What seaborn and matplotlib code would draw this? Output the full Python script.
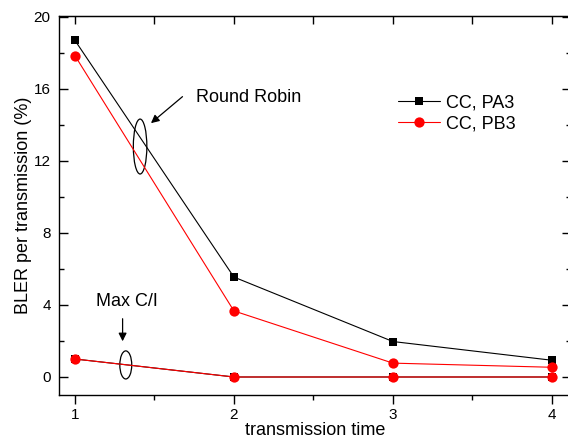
import numpy as np
import pandas as pd
import matplotlib
matplotlib.use("Agg")
import matplotlib.pyplot as plt
from matplotlib.patches import Ellipse
import seaborn as sns

# ---- Data ----
tx_time = [1, 2, 3, 4]
rr_pa3 = [18.7, 5.55, 1.97, 0.93]
rr_pb3 = [17.85, 3.67, 0.77, 0.54]
mc_pa3 = [1.0, 0.0, 0.0, 0.0]
mc_pb3 = [1.0, 0.0, 0.0, 0.0]

sns.set_style("white")
plt.rcParams['font.family'] = ['Liberation Sans', 'DejaVu Sans']
plt.rcParams['text.color'] = 'black'
plt.rcParams['axes.labelcolor'] = 'black'
plt.rcParams['xtick.color'] = 'black'
plt.rcParams['ytick.color'] = 'black'

fig = plt.figure(figsize=(5.68, 4.41), dpi=100)
ax = fig.add_axes([59 / 568, 46 / 441, 512 / 568, 379 / 441])

sty_a = dict(color='black', marker='s', markersize=5.8, linewidth=0.8,
             markeredgewidth=0, markeredgecolor='black')
sty_b = dict(color='red', marker='o', markersize=7.4, linewidth=0.8,
             markeredgewidth=0, markeredgecolor='red')

sns.lineplot(x=tx_time, y=rr_pa3, ax=ax, label='CC, PA3', **sty_a)
sns.lineplot(x=tx_time, y=rr_pb3, ax=ax, label='CC, PB3', **sty_b)
sns.lineplot(x=tx_time, y=mc_pa3, ax=ax, **sty_a)
sns.lineplot(x=tx_time, y=mc_pb3, ax=ax, **sty_b)

ax.set_xlim(0.9, 4.12)
ax.set_ylim(-1, 20.05)
ax.set_xticks([1, 2, 3, 4])
ax.set_xticks([1.5, 2.5, 3.5], minor=True)
ax.set_yticks([0, 4, 8, 12, 16, 20])
ax.set_yticks([2, 6, 10, 14, 18], minor=True)
ax.tick_params(axis='both', which='both', labelsize=11, color='black',
               labelcolor='black', width=1, bottom=True, left=True)
ax.tick_params(axis='x', which='both', direction='out', pad=3)
ax.tick_params(axis='y', which='both', direction='in', pad=6)
ax.tick_params(which='major', length=6.5)
ax.tick_params(which='minor', length=3.5)
for s in ax.spines.values():
    s.set_color('black')
    s.set_linewidth(1)

# mirrored inward ticks on top and right
top = ax.secondary_xaxis('top')
top.set_xticks([1, 2, 3, 4])
top.set_xticks([1.5, 2.5, 3.5], minor=True)
top.tick_params(which='both', direction='in', labeltop=False, width=1, length=6)
right = ax.secondary_yaxis('right')
right.set_yticks([0, 4, 8, 12, 16, 20])
right.set_yticks([2, 6, 10, 14, 18], minor=True)
right.tick_params(which='both', direction='in', labelright=False, width=1)
right.tick_params(which='major', length=6.5)
right.tick_params(which='minor', length=3.5)

ax.set_xlabel('transmission time', fontsize=13, labelpad=0)
ax.set_ylabel('BLER per transmission (%)', fontsize=13, labelpad=1)

# annotations
ax.add_patch(Ellipse((1.41, 12.8), 0.085, 3.05, fill=False, edgecolor='black', linewidth=0.9))
ax.annotate('', xy=(1.465, 14.0), xytext=(1.69, 15.67),
            arrowprops=dict(arrowstyle='-|>', color='black', lw=0.9, mutation_scale=12))
ax.text(1.76, 15.55, 'Round Robin', fontsize=13, va='center', ha='left')

ax.add_patch(Ellipse((1.32, 0.67), 0.075, 1.56, fill=False, edgecolor='black', linewidth=0.9))
ax.annotate('', xy=(1.30, 1.83), xytext=(1.30, 3.39),
            arrowprops=dict(arrowstyle='-|>', color='black', lw=0.9, mutation_scale=12))
ax.text(1.33, 4.17, 'Max C/I', fontsize=13, va='center', ha='center')

leg = ax.legend(loc='upper left', bbox_to_anchor=(0.631, 0.835), frameon=False,
                fontsize=13, handlelength=2.33, handletextpad=0.3, labelspacing=0.2)

fig.savefig('out.png', dpi=100)
